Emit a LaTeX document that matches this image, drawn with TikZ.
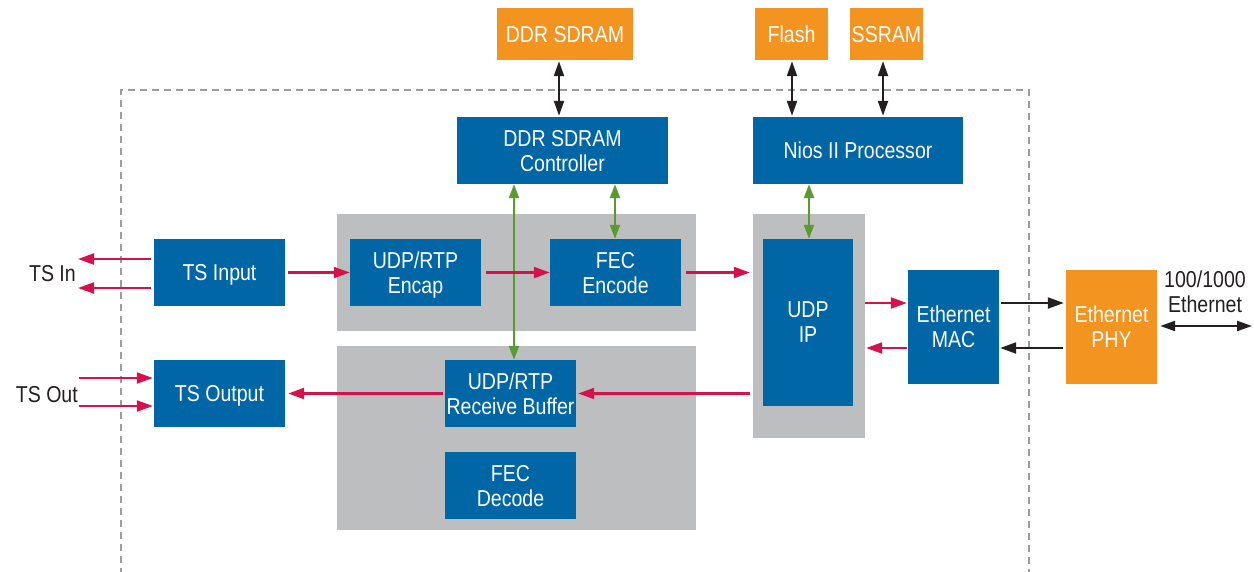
\documentclass[tikz,border=0pt]{standalone}
\usepackage{fontspec}
\setmainfont[FakeStretch=0.85]{Liberation Sans}
\usetikzlibrary{arrows.meta}
\definecolor{blk}{HTML}{0066A6}
\definecolor{org}{HTML}{F39320}
\definecolor{pnl}{HTML}{BCBEC0}
\definecolor{rd}{HTML}{D5124B}
\definecolor{gr}{HTML}{5A9A2F}
\definecolor{dsh}{HTML}{9D9D9D}
\definecolor{txt}{HTML}{231F20}
\tikzset{
  base/.style={inner sep=0pt, align=center, text depth=0pt, font=\fontsize{23}{25}\selectfont},
  bluebox/.style={base, fill=blk, text=white},
  orangebox/.style={base, fill=org, text=white},
  panel/.style={inner sep=0pt, fill=pnl},
  lbl/.style={base, text=txt},
  redarr/.style={draw=rd, line width=2.2pt, -{Triangle[length=16pt,width=11pt]}},
  greenarr/.style={draw=gr, line width=2.2pt, {Triangle[length=14pt,width=10pt]}-{Triangle[length=14pt,width=10pt]}},
  blkarr/.style={draw=txt, line width=2.2pt, -{Triangle[length=16pt,width=11pt]}},
  blkdbl/.style={draw=txt, line width=2.2pt, {Triangle[length=15pt,width=10pt]}-{Triangle[length=15pt,width=10pt]}},
  frame/.style={draw=dsh, line width=1.6pt, dash pattern=on 7pt off 5pt}
}
\begin{document}
\begin{tikzpicture}[x=1pt,y=-1pt]
\useasboundingbox (0,0) rectangle (1254,571);
% dashed frame
\coordinate (fbl) at (121,575);
\coordinate (ftl) at (121,90);
\coordinate (ftr) at (1029,90);
\coordinate (fbr) at (1029,575);
\draw[frame] (fbl) -- (ftl) -- (ftr) -- (fbr);
% panels
\node[panel, minimum width=359pt, minimum height=117pt] (p1) at (516.5,272.5) {};
\node[panel, minimum width=359pt, minimum height=184pt] (p2) at (516.5,438) {};
\node[panel, minimum width=112pt, minimum height=224pt] (p3) at (809,326) {};
% orange boxes
\node[orangebox, minimum width=136pt, minimum height=52pt] (ddr) at (565,34) {DDR SDRAM};
\node[orangebox, minimum width=73pt, minimum height=52pt] (flash) at (791.5,34) {Flash};
\node[orangebox, minimum width=73pt, minimum height=52pt] (ssram) at (886.5,34) {SSRAM};
\node[orangebox, minimum width=91pt, minimum height=114pt] (phy) at (1111.5,327) {Ethernet\\PHY};
% blue boxes
\node[bluebox, minimum width=211pt, minimum height=67pt] (ddrc) at (562.5,150.5) {DDR SDRAM\\Controller};
\node[bluebox, minimum width=210pt, minimum height=67pt] (nios) at (858,150.5) {Nios II Processor};
\node[bluebox, minimum width=131pt, minimum height=67pt] (encap) at (415.5,272.5) {UDP/RTP\\Encap};
\node[bluebox, minimum width=131pt, minimum height=67pt] (fec) at (615.5,272.5) {FEC\\Encode};
\node[bluebox, minimum width=131pt, minimum height=67pt] (rbuf) at (510.5,393.5) {UDP/RTP\\Receive Buffer};
\node[bluebox, minimum width=131pt, minimum height=67pt] (fecd) at (510.5,485.5) {FEC\\Decode};
\node[bluebox, minimum width=90pt, minimum height=167pt] (udp) at (808,322.5) {UDP\\IP};
\node[bluebox, minimum width=131pt, minimum height=67pt] (tsin) at (219.5,272.5) {TS Input};
\node[bluebox, minimum width=131pt, minimum height=67pt] (tsout) at (219.5,393.5) {TS Output};
\node[bluebox, minimum width=91pt, minimum height=114pt] (mac) at (953.5,327) {Ethernet\\MAC};
% labels
\node[lbl, anchor=east] (lin) at (76,273) {TS In};
\node[lbl, anchor=east] (lout) at (78,394) {TS Out};
\node[lbl] (leth) at (1205,292) {100/1000\\Ethernet};
% helper coordinates
\coordinate (xddr) at (559,0);
\coordinate (xfl) at (792,0);
\coordinate (xss) at (883,0);
\coordinate (xg1) at (514,0);
\coordinate (xg2) at (615,0);
\coordinate (xg3) at (809,0);
\coordinate (yin1) at (0,259);
\coordinate (yin2) at (0,288);
\coordinate (yout1) at (0,378);
\coordinate (yout2) at (0,406);
\coordinate (ytop) at (0,303);
\coordinate (ybot) at (0,348);
\coordinate (ymid) at (0,326);
\coordinate (xinl) at (78,0);
\coordinate (xoutl) at (79,0);
\coordinate (xend) at (1252,0);
% black memory arrows
\draw[blkdbl] ([yshift=-1pt]ddr.south -| xddr) -- ([yshift=1pt]ddrc.north -| xddr);
\draw[blkdbl] ([yshift=-1pt]flash.south -| xfl) -- ([yshift=1pt]nios.north -| xfl);
\draw[blkdbl] ([yshift=-1pt]ssram.south -| xss) -- ([yshift=1pt]nios.north -| xss);
% green arrows
\draw[greenarr] (ddrc.south -| xg2) -- (fec.north -| xg2);
\draw[greenarr] (ddrc.south -| xg1) -- (rbuf.north -| xg1);
\draw[greenarr] (nios.south -| xg3) -- (udp.north -| xg3);
% TS in/out arrows
\draw[redarr] ([xshift=-3pt]tsin.west |- yin1) -- (xinl |- yin1);
\draw[redarr] ([xshift=-3pt]tsin.west |- yin2) -- (xinl |- yin2);
\draw[redarr] (xoutl |- yout1) -- ([xshift=-1pt]tsout.west |- yout1);
\draw[redarr] (xoutl |- yout2) -- ([xshift=-1pt]tsout.west |- yout2);
% data path
\draw[redarr] ([xshift=3pt]tsin.east) -- (encap.west);
\draw[redarr] ([xshift=5pt]encap.east) -- (fec.west);
\draw[redarr] ([xshift=5pt]fec.east) -- ([xshift=-3pt]p3.west |- fec.east);
\draw[redarr] ([xshift=-3pt]p3.west |- rbuf.east) -- ([xshift=2pt]rbuf.east);
\draw[redarr] ([xshift=-2pt]rbuf.west) -- ([xshift=3pt]tsout.east);
\draw[redarr] (p3.east |- ytop) -- ([xshift=-1pt]mac.west |- ytop);
\draw[redarr] ([xshift=-1pt]mac.west |- ybot) -- ([xshift=1pt]p3.east |- ybot);
% MAC <-> PHY
\draw[blkarr] ([xshift=2pt]mac.east |- ytop) -- ([xshift=-2pt]phy.west |- ytop);
\draw[blkarr] ([xshift=-3pt]phy.west |- ybot) -- ([xshift=1pt]mac.east |- ybot);
\draw[blkdbl] ([xshift=3pt]phy.east |- ymid) -- (xend |- ymid);
\end{tikzpicture}
\end{document}
